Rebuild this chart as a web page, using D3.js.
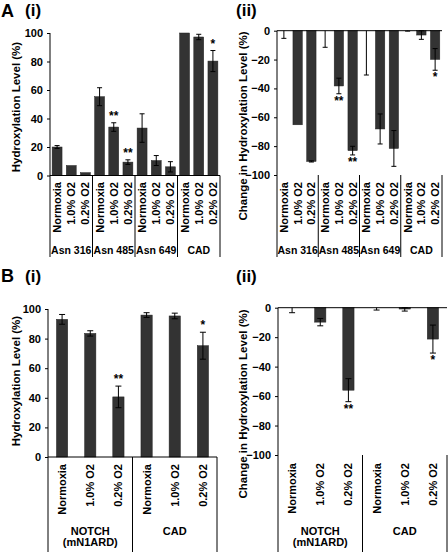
<!DOCTYPE html>
<html><head><meta charset="utf-8">
<script src="https://cdn.jsdelivr.net/npm/d3@7"></script>
<style>
body{margin:0;background:#fff;}
svg{display:block;font-family:"Liberation Sans",Arial,sans-serif;font-weight:bold;}
</style></head>
<body>
<script>
// ---- data ----
const conditions = ["Normoxia", "1.0% O2", "0.2% O2"];
const groupsA = ["Asn 316", "Asn 485", "Asn 649", "CAD"];
const levelA = [20, 7, 2, 55.3, 34, 9.4, 33.3, 10.5, 6.1, 100, 97.2, 80.3];
const levelAErr = [1, 0, 0, 6.3, 3, 1.6, 10, 3.5, 3.6, 0, 1.9, 7.4];
const levelASig = ["", "", "", "", "**", "**", "", "", "", "", "", "*"];
const changeA = [0, -65.2, -90.6, 0, -38.3, -83.1, 0, -68.1, -81.6, 0, -3, -19.9];
const changeAErr = [5.3, 0, 0.4, 11.5, 5.4, 3, 30.7, 10.4, 12.4, 0.3, 3, 7.5];
const changeASig = ["", "", "", "", "**", "**", "", "", "", "", "", "*"];
const groupsB = [["NOTCH", "(mN1ARD)"], ["CAD"]];
const levelB = [93, 83.5, 40.6, 95.9, 95.3, 75.2];
const levelBErr = [3.3, 1.8, 7.3, 1.6, 1.9, 9.1];
const levelBSig = ["", "", "**", "", "", "*"];
const changeB = [0, -9.8, -56, 0, -0.9, -21.3];
const changeBErr = [3.4, 2.5, 7.8, 1.6, 1.4, 9.5];
const changeBSig = ["", "", "**", "", "", "*"];
const ticksLevel = [0, 20, 40, 60, 80, 100];
const ticksChange = [0, -20, -40, -60, -80, -100];

const svg = d3.select("body").append("svg").attr("width", 448).attr("height", 552);
const BAR = "#333333";

function panel(o) {
  const g = svg.append("g");
  const n = o.values.length;
  const x = d3.scaleBand().domain(d3.range(n)).range([o.x0, o.x1]).paddingInner(o.pad).paddingOuter(o.pad / 2);
  const y = d3.scaleLinear().domain(o.domain).range([o.yTop, o.yBot]).clamp(true);
  const zeroY = y(0);
  // bars
  g.selectAll("rect.bar").data(o.values).join("rect")
    .attr("x", (d, i) => x(i)).attr("width", x.bandwidth())
    .attr("y", d => Math.min(y(d), zeroY)).attr("height", d => Math.abs(y(d) - zeroY))
    .attr("fill", BAR).attr("stroke", "#222").attr("stroke-width", 0.5);
  // error bars
  const cap = o.cap;
  o.values.forEach((v, i) => {
    const e = o.errs[i];
    if (e <= 0) return;
    const cx = x(i) + x.bandwidth() / 2;
    const hi = y(v + e), lo = y(v - e);
    g.append("line").attr("x1", cx).attr("x2", cx).attr("y1", hi).attr("y2", lo).attr("stroke", "#000").attr("stroke-width", 1);
    [v + e, v - e].forEach(t => {
      if (y(t) === zeroY && v === 0) return;
      g.append("line").attr("x1", cx - cap).attr("x2", cx + cap).attr("y1", y(t)).attr("y2", y(t)).attr("stroke", "#000").attr("stroke-width", 1);
    });
    if (o.sigs[i]) {
      const sy = o.sigBelow ? lo + 11 : hi - 3;
      g.append("text").attr("x", cx).attr("y", sy).attr("text-anchor", "middle")
        .attr("font-size", 12).text(o.sigs[i]);
    }
  });
  // y axis
  const ax = d3.axisLeft(y).tickValues(o.ticks).tickSize(3).tickPadding(4).tickFormat(d3.format("d"));
  const ag = g.append("g").attr("transform", `translate(${o.x0},0)`).call(ax);
  ag.select(".domain").remove();
  ag.selectAll("text").attr("font-size", 11).attr("font-weight", "bold").attr("fill", "#000").attr("font-family", "Liberation Sans, Arial, sans-serif");
  ag.selectAll("line").attr("stroke", "#000");
  // vertical axis line down to the bottom of label block
  g.append("line").attr("x1", o.x0).attr("x2", o.x0).attr("y1", Math.min(o.yTop, o.yBot)).attr("y2", o.divBottom).attr("stroke", "#000");
  // horizontal category axis at zero
  g.append("line").attr("x1", o.x0).attr("x2", o.x1).attr("y1", zeroY).attr("y2", zeroY).attr("stroke", "#000");
  // group dividers
  const ng = o.groups.length;
  const per = n / ng;
  for (let k = 1; k <= ng; k++) {
    const dx = k < ng ? (x(k * per) - x.step() * o.pad / 2) : o.x1;
    g.append("line").attr("x1", dx).attr("x2", dx).attr("y1", o.divTop).attr("y2", o.divBottom).attr("stroke", "#000");
  }
  // category labels
  g.selectAll("text.cat").data(o.values).join("text")
    .attr("transform", (d, i) => `translate(${x(i) + x.bandwidth() / 2 + 4},${o.labelTop}) rotate(-90)`)
    .attr("text-anchor", "end").attr("font-size", 11).text((d, i) => conditions[i % 3]);
  // group labels
  o.groups.forEach((gl, k) => {
    const cx = o.x0 + (o.x1 - o.x0) * (k + 0.5) / ng;
    const lines = Array.isArray(gl) ? gl : [gl];
    lines.forEach((t, j) => {
      g.append("text").attr("x", cx).attr("y", o.groupY + j * 11).attr("text-anchor", "middle").attr("font-size", o.groupFont).text(t);
    });
  });
  // y title
  g.append("text").attr("transform", `translate(${o.titleX},${o.titleY}) rotate(-90)`)
    .attr("text-anchor", "middle").attr("font-size", 11.5).text(o.title);
}

panel({x0: 50, x1: 220, yTop: 33, yBot: 175.5, domain: [100, 0], pad: 0.3, cap: 2.5,
  values: levelA, errs: levelAErr, sigs: levelASig, sigBelow: false, ticks: ticksLevel,
  groups: groupsA, groupFont: 10.5, divTop: 175.5, divBottom: 257, labelTop: 182, groupY: 254,
  title: "Hydroxylation Level (%)", titleX: 20, titleY: 107});
panel({x0: 277, x1: 442, yTop: 30.7, yBot: 175, domain: [0, -100], pad: 0.32, cap: 2.5,
  values: changeA, errs: changeAErr, sigs: changeASig, sigBelow: true, ticks: ticksChange,
  groups: groupsA, groupFont: 10.5, divTop: 175, divBottom: 257, labelTop: 182, groupY: 254,
  title: "Change in Hydroxylation Level (%)", titleX: 247, titleY: 126});
panel({x0: 48, x1: 217, yTop: 309, yBot: 457, domain: [100, 0], pad: 0.6, cap: 3,
  values: levelB, errs: levelBErr, sigs: levelBSig, sigBelow: false, ticks: ticksLevel,
  groups: groupsB, groupFont: 11, divTop: 457, divBottom: 552, labelTop: 464, groupY: 535,
  title: "Hydroxylation Level (%)", titleX: 20, titleY: 381});
panel({x0: 278, x1: 447, yTop: 307.7, yBot: 455, domain: [0, -100], pad: 0.6, cap: 3,
  values: changeB, errs: changeBErr, sigs: changeBSig, sigBelow: true, ticks: ticksChange,
  groups: groupsB, groupFont: 11, divTop: 455, divBottom: 552, labelTop: 463, groupY: 535,
  title: "Change in Hydroxylation Level (%)", titleX: 246.5, titleY: 404});

// panel letters
const letters = [["A", 1, 17, 18], ["(i)", 25, 16, 17], ["(ii)", 236, 16, 17], ["B", 1, 282, 18], ["(i)", 25, 282, 17], ["(ii)", 236, 282, 17]];
letters.forEach(([t, lx, ly, fs]) => svg.append("text").attr("x", lx).attr("y", ly).attr("font-size", fs).text(t));
</script>
</body></html>
